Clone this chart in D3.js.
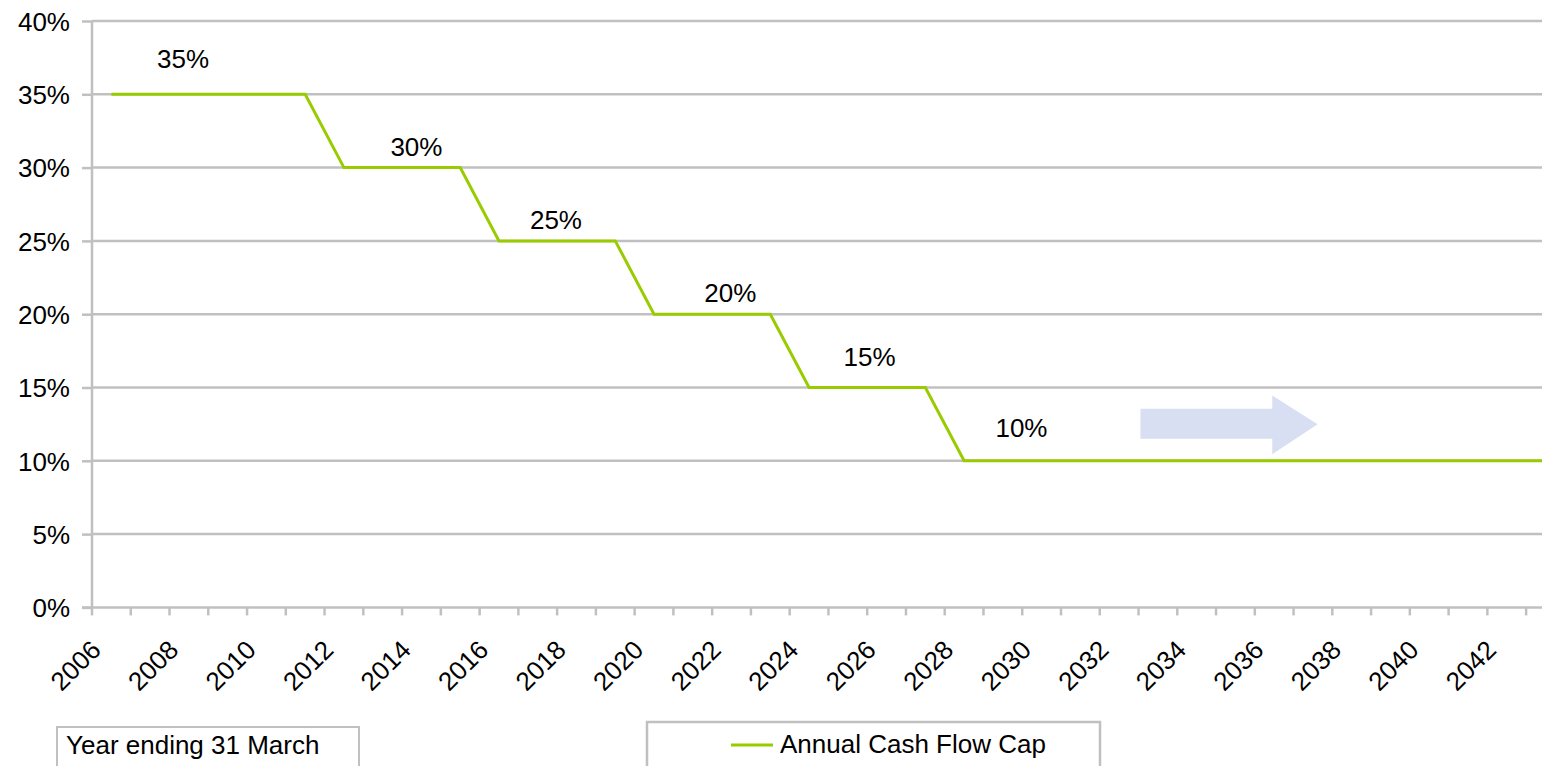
<!DOCTYPE html>
<html>
<head>
<meta charset="utf-8">
<script src="https://cdn.jsdelivr.net/npm/d3@7"></script>
<style>
  body { margin: 0; background: #fff; overflow: hidden; }
  text { font-family: "Liberation Sans", Arial, sans-serif; fill: #000; }
</style>
</head>
<body>
<script>
// Chart data
let years = d3.range(2006, 2044);
let capValues = [35, 35, 35, 35, 35, 35, 30, 30, 30, 30, 25, 25, 25, 25,
                 20, 20, 20, 20, 15, 15, 15, 15, 10, 10, 10, 10, 10, 10,
                 10, 10, 10, 10, 10, 10, 10, 10, 10, 10];
let yTicks = [0, 5, 10, 15, 20, 25, 30, 35, 40];
let labelTexts = ['35%', '30%', '25%', '20%', '15%', '10%'];
let labelYears = [2007.85, 2013.87, 2017.47, 2021.97, 2025.56, 2029.48];
let labelValues = [36.8, 30.8, 25.8, 20.8, 16.5, 11.6];
let seriesName = 'Annual Cash Flow Cap';
let axisNote = 'Year ending 31 March';

// Dimensions
let svgWidth = 1542;
let svgHeight = 766;
let margin = { top: 21, left: 92 };
let bandWidth = 38.76;
let chartWidth = bandWidth * years.length;
let chartHeight = 586.4;
let fontSize = 26;
let gridColor = '#c0c0c0';
let lineColor = '#99cc00';

let svg = d3.select('body')
            .append('svg')
            .attr('width', svgWidth)
            .attr('height', svgHeight);
let chartGroup = svg.append('g')
                    .attr('transform', `translate(${margin.left}, ${margin.top})`);

// Scales
let xScale = d3.scaleBand().domain(years).range([0, chartWidth]);
let xPos = d3.scaleLinear()
             .domain([years[0], years[years.length - 1]])
             .range([xScale(years[0]) + xScale.bandwidth() / 2,
                     xScale(years[years.length - 1]) + xScale.bandwidth() / 2]);
let yScale = d3.scaleLinear().domain([0, 40]).range([chartHeight, 0]);

// Horizontal gridlines
chartGroup.append('g')
          .selectAll('line')
          .data(yTicks.filter(d => d > 0))
          .enter()
          .append('line')
          .attr('x1', 0)
          .attr('x2', chartWidth)
          .attr('y1', d => yScale(d))
          .attr('y2', d => yScale(d))
          .attr('stroke', gridColor)
          .attr('stroke-width', 2.5);

// Y axis
let yAxis = d3.axisLeft(yScale)
              .tickValues(yTicks)
              .tickSize(10)
              .tickPadding(12)
              .tickFormat(d => d + '%');
let yAxisG = chartGroup.append('g').call(yAxis);
yAxisG.select('.domain').attr('stroke', gridColor).attr('stroke-width', 2.5)
      .attr('d', `M0,${chartHeight + 1}V0`);
yAxisG.selectAll('.tick line').attr('stroke', gridColor).attr('stroke-width', 2.5);
yAxisG.selectAll('.tick text')
      .attr('font-size', fontSize)
      .attr('font-family', '"Liberation Sans", Arial, sans-serif')
      .attr('fill', '#000')
      .attr('dy', '0.36em');

// X axis: base line, boundary ticks, labels every second year
let xAxisG = chartGroup.append('g').attr('transform', `translate(0, ${chartHeight})`);
xAxisG.append('line')
      .attr('x1', -10)
      .attr('x2', chartWidth)
      .attr('stroke', gridColor)
      .attr('stroke-width', 2.5);
xAxisG.selectAll('.bound')
      .data(years.concat([null]))
      .enter()
      .append('line')
      .attr('class', 'bound')
      .attr('x1', d => d === null ? chartWidth : xScale(d))
      .attr('x2', d => d === null ? chartWidth : xScale(d))
      .attr('y1', 0)
      .attr('y2', 8)
      .attr('stroke', gridColor)
      .attr('stroke-width', 2.5);
let xAxis = d3.axisBottom(xScale)
              .tickValues(years.filter(d => (d - years[0]) % 2 === 0))
              .tickSize(0);
let xLabels = xAxisG.append('g').call(xAxis);
xLabels.select('.domain').remove();
xLabels.selectAll('.tick text')
       .attr('font-size', fontSize)
       .attr('font-family', '"Liberation Sans", Arial, sans-serif')
       .attr('fill', '#000')
       .attr('text-anchor', 'end')
       .attr('y', 0)
       .attr('dy', 0)
       .attr('transform', 'translate(-9, 44) rotate(-45)');

// Arrow shape (in chart units)
let arrowYears = [2032.55, 2035.95, 2037.12];
let arrowValues = [13.55, 11.5, 14.45, 10.45, 12.5];
let arrowPts = [
    [arrowYears[0], arrowValues[0]], [arrowYears[1], arrowValues[0]],
    [arrowYears[1], arrowValues[2]], [arrowYears[2], arrowValues[4]],
    [arrowYears[1], arrowValues[3]], [arrowYears[1], arrowValues[1]],
    [arrowYears[0], arrowValues[1]]
];
chartGroup.append('path')
          .attr('d', d3.line().x(d => xPos(d[0])).y(d => yScale(d[1]))(arrowPts) + 'Z')
          .attr('fill', '#d9dff3');

// Cap line
let line = d3.line()
             .x((d, i) => xScale(years[i]) + xScale.bandwidth() / 2)
             .y(d => yScale(d));
chartGroup.append('path')
          .datum(capValues)
          .attr('d', line)
          .attr('fill', 'none')
          .attr('stroke', lineColor)
          .attr('stroke-width', 3);

// Value labels
chartGroup.selectAll('.valLabel')
          .data(labelTexts)
          .enter()
          .append('text')
          .attr('class', 'valLabel')
          .attr('x', (d, i) => xPos(labelYears[i]))
          .attr('y', (d, i) => yScale(labelValues[i]))
          .attr('text-anchor', 'middle')
          .attr('font-size', fontSize)
          .text(d => d);

// Bottom boxes
svg.append('rect')
   .attr('x', 57).attr('y', 727)
   .attr('width', 302).attr('height', 60)
   .attr('fill', 'none').attr('stroke', gridColor).attr('stroke-width', 2);
svg.append('text')
   .attr('x', 66).attr('y', 754)
   .attr('font-size', fontSize)
   .text(axisNote);

svg.append('rect')
   .attr('x', 647).attr('y', 722)
   .attr('width', 453).attr('height', 60)
   .attr('fill', 'none').attr('stroke', gridColor).attr('stroke-width', 2.5);
svg.append('line')
   .attr('x1', 731).attr('x2', 773)
   .attr('y1', 745).attr('y2', 745)
   .attr('stroke', lineColor).attr('stroke-width', 3);
svg.append('text')
   .attr('x', 780).attr('y', 753)
   .attr('font-size', fontSize)
   .text(seriesName);
</script>
</body>
</html>
